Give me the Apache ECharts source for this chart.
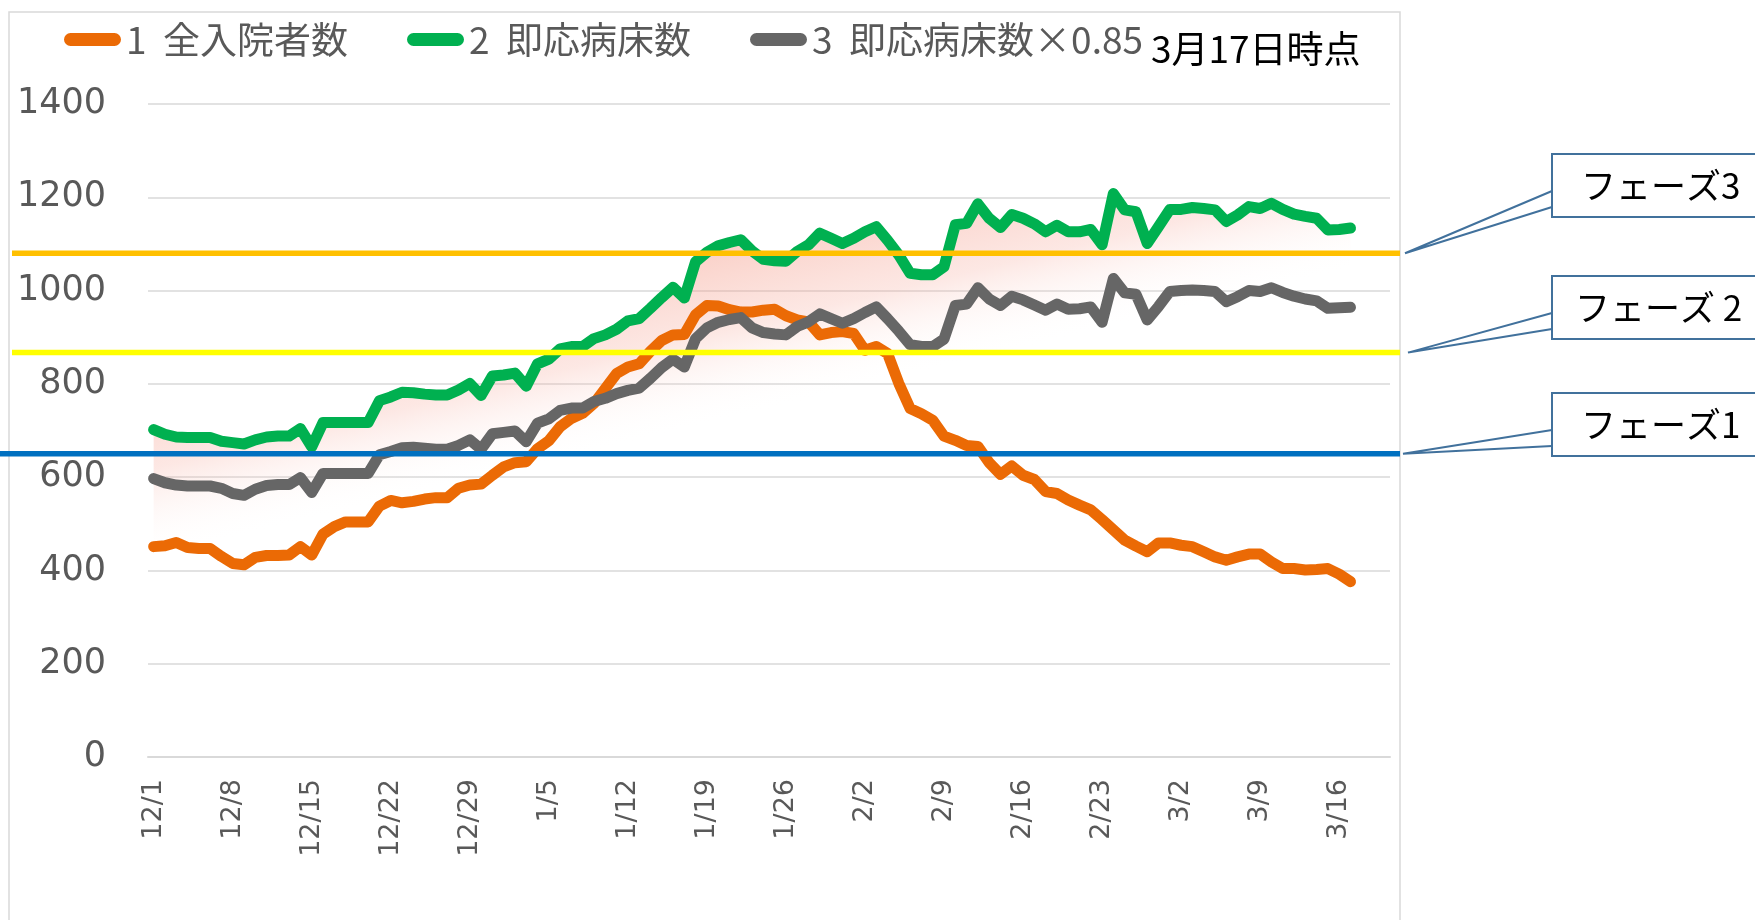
<!DOCTYPE html>
<html><head><meta charset="utf-8">
<script src="https://cdn.jsdelivr.net/npm/echarts@6/dist/echarts.min.js"></script>
<style>html,body{margin:0;padding:0;background:#fff}#c{width:1755px;height:920px}</style>
</head><body><div id="c"></div>
<script>
const categories = [
'12/1','12/2','12/3','12/4','12/5','12/6','12/7','12/8','12/9','12/10','12/11','12/12','12/13','12/14','12/15','12/16','12/17','12/18','12/19','12/20','12/21','12/22','12/23','12/24','12/25','12/26','12/27','12/28','12/29','12/30','12/31',
'1/1','1/2','1/3','1/4','1/5','1/6','1/7','1/8','1/9','1/10','1/11','1/12','1/13','1/14','1/15','1/16','1/17','1/18','1/19','1/20','1/21','1/22','1/23','1/24','1/25','1/26','1/27','1/28','1/29','1/30','1/31',
'2/1','2/2','2/3','2/4','2/5','2/6','2/7','2/8','2/9','2/10','2/11','2/12','2/13','2/14','2/15','2/16','2/17','2/18','2/19','2/20','2/21','2/22','2/23','2/24','2/25','2/26','2/27','2/28',
'3/1','3/2','3/3','3/4','3/5','3/6','3/7','3/8','3/9','3/10','3/11','3/12','3/13','3/14','3/15','3/16','3/17','3/18','3/19','3/20'];

const inpatients = [451,453,460,449,447,447,430,415,412,428,
432,432,433,451,433,478,494,504,504,504,
538,550,545,548,553,556,556,576,583,585,
604,622,631,633,661,678,708,726,737,758,
790,822,836,843,870,893,905,906,948,968,
967,959,954,954,958,960,946,937,933,905,
910,912,908,872,880,865,801,747,736,722,
688,679,668,666,631,606,624,604,595,569,
565,551,540,530,509,487,465,452,440,459,
459,454,451,440,429,422,429,435,435,418,
404,404,401,402,404,392,376];

const beds = [702,692,686,685,685,685,677,674,671,680,
686,688,688,704,665,717,717,717,717,717,
764,772,782,781,778,776,776,787,801,775,
817,819,823,795,843,853,875,880,880,897,
905,917,935,940,962,985,1007,984,1062,1082,
1096,1103,1109,1085,1067,1064,1063,1084,1098,1123,
1112,1101,1112,1126,1137,1108,1076,1037,1034,1034,
1051,1141,1144,1186,1155,1135,1163,1155,1143,1126,
1140,1126,1126,1131,1098,1208,1173,1169,1101,1137,
1174,1174,1178,1176,1173,1148,1162,1180,1176,1187,
1174,1164,1159,1155,1130,1131,1134];

const beds085 = [597,588,583,581,581,581,576,565,561,574,
582,584,584,599,567,608,608,608,608,608,
648,655,663,664,662,660,660,668,680,660,
693,696,699,676,716,725,743,748,748,762,
769,779,786,791,812,835,853,836,897,920,
932,938,942,920,910,907,905,923,933,950,
940,930,940,953,965,940,913,884,880,880,
896,968,971,1006,982,968,988,980,969,958,
971,960,961,965,932,1026,995,992,937,966,
998,1000,1001,1000,998,976,987,1000,998,1006,
996,988,982,978,962,963,964];

const seriesNames = ['1  全入院者数', '2  即応病床数', '3  即応病床数×0.85'];
const seriesColors = ['#EB6A05', '#00B050', '#666666'];
const phaseNames = ['フェーズ1', 'フェーズ 2', 'フェーズ3'];
const phaseValues = [650, 867, 1080];
const phaseColors = ['#0070C0', '#FFFF00', '#FFC000'];
const dateNote = '3月17日時点';

const FONT_NUM = '"DejaVu Sans", Verdana, sans-serif';
const FONT_JP = '"Noto Sans CJK JP", "Noto Sans", sans-serif';

const chart = echarts.init(document.getElementById('c'), null, {renderer: 'canvas'});

const pink = new echarts.graphic.LinearGradient(148, 380, 189, 550, [
  {offset: 0, color: 'rgba(244,150,130,0.45)'},
  {offset: 0.5, color: 'rgba(246,165,150,0.26)'},
  {offset: 1, color: 'rgba(255,255,255,0)'}
], true);

const pillIcon = 'path://M6.5,0 H50.5 A6.5,6.5 0 0 1 50.5,13 H6.5 A6.5,6.5 0 0 1 6.5,0 Z';
const legendLefts = [59, 402, 745];

function lineSeries(i, data) {
  return {
    name: seriesNames[i], type: 'line', data: data, showSymbol: false, symbol: 'none',
    color: seriesColors[i], z: 3 + i,
    lineStyle: {width: 11, color: seriesColors[i], cap: 'round', join: 'round'}
  };
}

chart.setOption({
  animation: false,
  backgroundColor: '#ffffff',
  grid: {left: 148, right: 365, top: 104, bottom: 163, containLabel: false},
  legend: seriesNames.map((n, i) => ({
    left: legendLefts[i], top: 16, itemWidth: 57, itemHeight: 13,
    icon: pillIcon, selectedMode: false, data: [n],
    textStyle: {fontSize: 37, color: '#595959', fontFamily: FONT_JP}
  })),
  xAxis: [
    {
      type: 'category', data: categories, boundaryGap: true,
      axisLine: {lineStyle: {color: '#d9d9d9', width: 2}},
      axisTick: {interval: 0, length: 8, lineStyle: {color: '#d9d9d9', width: 1.5}},
      axisLabel: {interval: 6, rotate: 90, margin: 22, fontSize: 27, color: '#595959', fontFamily: FONT_NUM},
      splitLine: {show: false}
    },
    {
      type: 'category', data: categories, boundaryGap: true, position: 'bottom', offset: -9,
      axisLine: {show: false},
      axisTick: {interval: 6, length: 19, lineStyle: {color: '#d9d9d9', width: 1.5}},
      axisLabel: {show: false}, splitLine: {show: false}
    }
  ],
  yAxis: {
    type: 'value', min: 0, max: 1400, interval: 200,
    axisLine: {show: false}, axisTick: {show: false},
    axisLabel: {fontSize: 35, color: '#595959', margin: 42, fontFamily: FONT_NUM,
      formatter: v => String(v)},
    splitLine: {lineStyle: {color: '#d9d9d9', width: 1.5}}
  },
  series: [
    {
      name: 'fill', type: 'line', data: beds, showSymbol: false, symbol: 'none', silent: true, z: 1,
      lineStyle: {width: 0, opacity: 0},
      areaStyle: {color: pink, opacity: 1}
    },
    lineSeries(0, inpatients),
    lineSeries(1, beds),
    lineSeries(2, beds085)
  ]
});

// annotation shapes: phase lines at their values, callouts pointing to them
const py = phaseValues.map(v => chart.convertToPixel({yAxisIndex: 0}, v));
const boxTops = [393, 276, 154];
const lineStarts = [0, 12, 12];
const tipX = [1403, 1408, 1405];
const textX = [1581, 1575, 1581];
const g = [];
g.push({type: 'rect', z: 0, silent: true,
  shape: {x: 9, y: 12, width: 1391, height: 940},
  style: {fill: 'none', stroke: '#d9d9d9', lineWidth: 1.5}});
for (let i = 0; i < 3; i++) {
  g.push({type: 'line', z: 20, silent: true,
    shape: {x1: lineStarts[i], y1: py[i], x2: 1400, y2: py[i]},
    style: {stroke: phaseColors[i], lineWidth: 5.5}});
  const bt = boxTops[i];
  g.push({type: 'rect', z: 21, silent: true,
    shape: {x: 1552, y: bt, width: 220, height: 63},
    style: {fill: '#ffffff', stroke: '#41719C', lineWidth: 2}});
  g.push({type: 'polyline', z: 22, silent: true,
    shape: {points: [[1552, bt + 37], [tipX[i], py[i]], [1552, bt + 53]]},
    style: {fill: 'none', stroke: '#41719C', lineWidth: 2}});
  g.push({type: 'text', z: 23, silent: true,
    style: {text: phaseNames[i], x: textX[i], y: bt + 32, fill: '#000000',
      font: '35px ' + FONT_JP, verticalAlign: 'middle', align: 'left'}});
}
g.push({type: 'text', z: 23, silent: true,
  style: {text: dateNote, x: 1151, y: 49, fill: '#000000',
    font: '37px ' + FONT_JP, verticalAlign: 'middle', align: 'left'}});
chart.setOption({graphic: g});
</script>
</body></html>
